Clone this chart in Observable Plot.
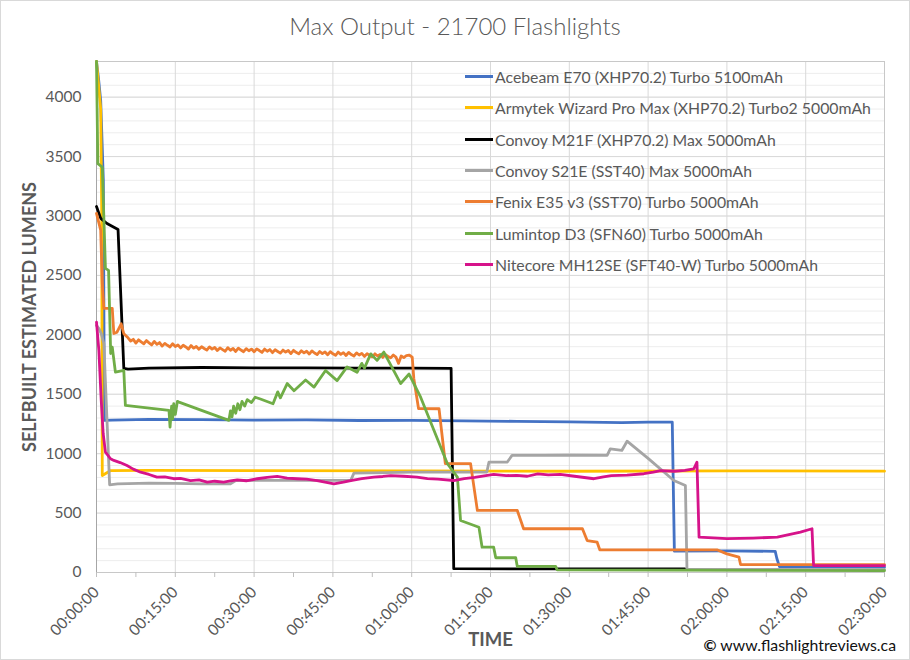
<!DOCTYPE html>
<html><head><meta charset="utf-8">
<script src="https://cdn.jsdelivr.net/npm/d3@7"></script>
<script src="https://cdn.jsdelivr.net/npm/@observablehq/plot@0.6"></script>
<style>
body{margin:0;background:#fff;font-family:Lato,"Open Sans",sans-serif;}
#wrap{position:relative;width:910px;height:660px;box-sizing:border-box;border:1px solid #D9D9D9;background:#fff;overflow:hidden;}
#title{position:absolute;top:10px;left:0;width:100%;text-align:center;font-size:24px;font-weight:300;color:#595959;}
#chart{position:absolute;top:48px;left:0;}
#legend{position:absolute;left:464px;top:60px;font-size:15.8px;color:#595959;}
.lg{display:flex;align-items:center;height:31.3px;}
.sw{width:28px;height:3px;margin-right:2px;}
#copy{position:absolute;right:13px;top:634px;font-size:15.8px;color:#111;}
</style></head>
<body><div id="wrap"><div id="title">Max Output - 21700 Flashlights</div><div id="chart"></div><div id="legend"></div><div id="copy"><b>©</b> www.flashlightreviews.ca</div></div>
<script>
const seriesNames = ["Acebeam E70 (XHP70.2) Turbo 5100mAh","Armytek Wizard Pro Max (XHP70.2) Turbo2 5000mAh","Convoy M21F (XHP70.2) Max 5000mAh","Convoy S21E (SST40) Max 5000mAh","Fenix E35 v3 (SST70) Turbo 5000mAh","Lumintop D3 (SFN60) Turbo 5000mAh","Nitecore MH12SE (SFT40-W) Turbo 5000mAh"];
const seriesColors = ["#4472C4","#FFC000","#000000","#A5A5A5","#ED7D31","#70AD47","#D6138A"];

// time in minutes, values in lumens
const aceT = [0,0.4,0.8,1.3,1.5,3,10,20,30,40,50,60,70,80,90,100,105,109.6,110.0,120,129.2,129.5,130,150];
const aceV = [4300,4150,3970,3300,1280,1282,1288,1286,1282,1284,1279,1280,1276,1272,1268,1262,1266,1265,180,182,178,120,50,45];

const armT = [0,0.5,0.8,1.0,1.1,2.7,10,30,60,90,120,150];
const armV = [4300,4050,3900,3000,816,858,860,857,855,852,855,853];

const m21T = [0,0.8,2,4.1,5.2,6,10,20,30,40,50,60,67.5,68.0,90,112];
const m21V = [3080,2980,2937,2887,1717,1712,1720,1725,1722,1722,1720,1720,1718,32,30,30];

const s21T = [0,0.5,0.9,1.4,2.5,4,10,15,20,25.5,26.5,35,48.4,49,55,60,65,70,74.3,74.7,75.3,78.2,79.1,85,90,97.2,97.8,100,101,105,109.9,112.1,112.4,150];
const s21V = [2080,2050,2010,1927,738,745,752,750,746,746,774,776,775,836,840,845,845,845,845,928,928,930,985,985,988,985,1041,1027,1105,960,774,732,28,25];

const fenT = [0,0.8,1.1,1.4,3.0,3.3,3.9,4.7,5.2,
  6,6.5,7,7.5,8,8.5,9,9.5,10,10.5,11,11.5,12,12.5,13,13.5,14,14.5,15,15.5,16,16.5,17,17.5,18,18.5,19,19.5,20,20.5,
  21,21.5,22,22.5,23,23.5,24,24.5,25,25.5,26,26.5,27,27.5,28,28.5,29,29.5,30,30.5,31,31.5,32,32.5,33,33.5,34,34.5,35,35.5,
  36,36.5,37,37.5,38,38.5,39,39.5,40,40.5,41,41.5,42,42.5,43,43.5,44,44.5,45,45.5,46,46.5,47,47.5,48,48.5,49,49.5,50,50.5,
  51,51.5,52,52.5,53,53.5,54,54.5,55,55.5,56,56.5,57,57.5,58,58.5,59,59.5,
  60.1,60.4,61.3,65.2,66.4,71.2,72.5,80.1,81.3,92.5,93.4,95.3,95.8,118.1,120,122.3,122.6,150];
const fenV = [3022,2880,2433,2222,2222,2011,2022,2093,2009,
  1975,1948,1962,1930,1958,1940,1925,1952,1932,1915,1945,1920,1935,1905,1928,1912,1898,1925,1902,1915,1890,1912,1898,1880,1910,1888,1902,1878,1900,1885,
  1872,1898,1880,1893,1868,1890,1876,1862,1892,1870,1885,1860,1888,1872,1858,1884,1866,1880,1857,1882,1868,1852,1880,1862,1876,1850,1874,1860,1846,1872,
  1855,1868,1842,1870,1853,1840,1866,1848,1862,1838,1865,1847,1834,1860,1842,1856,1832,1858,1840,1828,1855,1836,1850,1826,1852,1834,1822,1848,1830,1844,
  1818,1842,1826,1814,1840,1822,1835,1810,1834,1818,1806,1830,1812,1760,1822,1808,1826,1830,
  1812,1633,1380,1378,917,917,522,522,368,368,269,255,191,191,157,129,67,67];

const lumT = [0,0.25,1.1,1.7,2.3,2.7,3.0,3.6,5.2,5.5,8.4,13.8,14.0,14.3,14.5,14.7,15.0,15.4,15.7,25.2,25.5,25.8,26.1,26.5,26.9,27.3,27.7,28.2,28.7,29.5,30.2,31.2,33.6,34.5,35.0,36.3,37.6,39.8,41.4,43.6,45.8,47.7,49.6,50.5,51.0,52.2,53.4,54.7,57.9,59.5,61.7,66.8,68.7,69.3,72.8,73.4,75.6,76.0,79.8,80.1,87.4,87.7,150];
const lumV = [4300,3440,3412,2559,2542,1843,1897,1686,1700,1406,1391,1364,1223,1400,1290,1420,1330,1440,1434,1280,1360,1310,1400,1340,1420,1370,1440,1400,1455,1430,1475,1460,1420,1520,1470,1590,1530,1620,1560,1700,1615,1730,1685,1760,1720,1840,1785,1855,1590,1670,1475,915,802,438,381,213,213,124,124,51,51,22,15];

const nitT = [0,0.45,0.9,1.27,1.7,2.67,3.3,4.5,5.8,7,8.4,10,11.5,13,14.7,16,17.9,19.5,21.1,22.5,24.2,25.5,26.8,28.5,30.6,32.5,34.4,36.3,38.2,40,42,43.5,45.2,47,48.4,50.5,52.8,54.5,56,58.5,61,63,65,68,70,72,75.6,78,80,82,84,86,88.3,91,94.7,96.5,98,101,104.2,106,107.4,110,112,113.7,114.3,114.7,120,125,129.6,134,136.2,136.5,150];
const nitV = [2107,1869,1448,1170,1013,957,943,925,900,870,844,825,802,805,789,792,774,780,760,768,760,770,780,772,789,800,808,795,789,785,774,760,746,760,774,790,802,808,816,810,802,790,785,774,790,800,825,815,818,810,830,822,825,810,789,805,815,820,831,845,858,852,860,873,928,297,285,290,297,339,368,59,58];

const tickMajor = d3.range(0, 151, 15);
const tickMinor = d3.range(0, 151, 7.5);
const yMajor = d3.range(0, 4001, 500);
const yMinor = d3.range(0, 4301, 100);

const pad = n => String(n).padStart(2, "0");
const fmt = m => `${pad(Math.floor(m/60))}:${pad(m%60)}:00`;

const allT = [aceT, armT, m21T, s21T, fenT, lumT, nitT];
const allV = [aceV, armV, m21V, s21V, fenV, lumV, nitV];
const series = allT.map((ts, i) => ts.map((t, j) => ({t, v: allV[i][j], name: seriesNames[i]})));

const plot = Plot.plot({
  width: 908, height: 610,
  marginLeft: 95, marginRight: 25, marginTop: 12, marginBottom: 87,
  style: {fontFamily: "Lato, 'Open Sans', sans-serif", fontSize: "15px", color: "#595959", background: "transparent"},
  x: {domain: [0, 150]},
  y: {domain: [0, 4300]},
  marks: [
    Plot.ruleY(yMinor, {stroke: "#EDEDED", strokeWidth: 1}),
    Plot.ruleY(yMajor, {stroke: "#D9D9D9", strokeWidth: 1}),
    Plot.ruleX(tickMajor, {stroke: "#D9D9D9", strokeWidth: 1}),
    Plot.frame({stroke: "#C8C8C8"}),
    Plot.ruleX([0], {stroke: "#A6A6A6"}),
    Plot.ruleY([0], {stroke: "#C8C8C8"}),
    Plot.axisX(tickMinor, {tickSize: 5, stroke: "#BFBFBF", text: null, label: null}),
    Plot.axisX(tickMajor, {tickSize: 0, tickPadding: 17, tickRotate: -45, tickFormat: fmt, label: null, fill: "#595959", fontSize: 15.5}),
    Plot.axisY(yMajor, {tickSize: 0, tickPadding: 15, tickFormat: d => String(d), label: null, fill: "#595959", fontSize: 15.5}),
    ...series.map((s, i) => Plot.line(s, {x: "t", y: "v", stroke: seriesColors[i], strokeWidth: 2.8, strokeLinejoin: "round", strokeLinecap: "round"})),
    Plot.text(["SELFBUILT ESTIMATED LUMENS"], {frameAnchor: "left", textAnchor: "middle", rotate: -90, dx: -66, fontWeight: "bold", fontSize: 18, fill: "#595959"}),
    Plot.text(["TIME"], {frameAnchor: "bottom", dy: 73, fontWeight: "bold", fontSize: 18.5, fill: "#595959"})
  ]
});
document.getElementById("chart").appendChild(plot);

const lg = document.getElementById("legend");
seriesNames.forEach((n, i) => {
  const row = document.createElement("div");
  row.className = "lg";
  row.innerHTML = `<span class="sw" style="background:${seriesColors[i]}"></span><span>${n}</span>`;
  lg.appendChild(row);
});
</script></body></html>
